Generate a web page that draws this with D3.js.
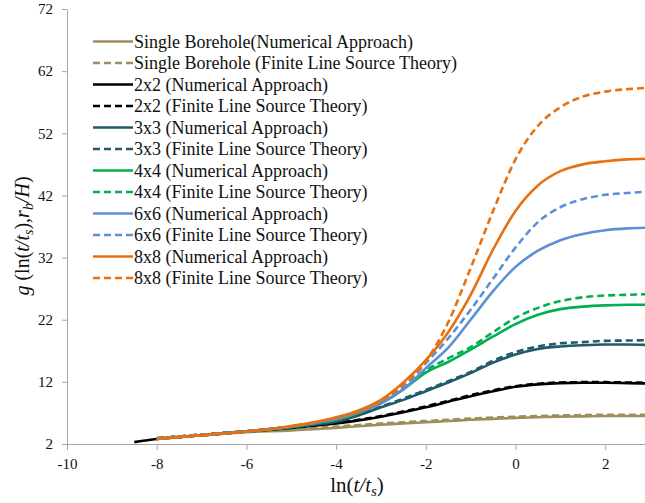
<!DOCTYPE html>
<html>
<head>
<meta charset="utf-8">
<script src="https://cdn.jsdelivr.net/npm/d3@7"></script>
<style>
  html, body { margin: 0; padding: 0; background: #fff; }
  svg { display: block; }
  svg text { font-family: "Liberation Serif", "Times New Roman", serif; }
</style>
</head>
<body>
<svg id="chart" width="645" height="503"></svg>
<script>
// ---------- data ----------
const xNumericalLong = [-8.5,-8,-7,-6,-5,-4.5,-4,-3.5,-3,-2.5,-2,-1.5,-1,-0.5,0,0.5,1,1.5,2,2.5,2.9];
const xNumerical = [-8,-7,-6,-5,-4.5,-4,-3.5,-3,-2.5,-2,-1.5,-1,-0.5,0,0.5,1,1.5,2,2.5,2.9];
const xFiniteLine = [-8,-7,-6,-5,-4.5,-4,-3.5,-3,-2.5,-2,-1.5,-1,-0.5,0,0.5,1,1.5,2,2.5,2.9];

const singleNum = [2.8,3.4,3.9,4.2,4.4,4.6,4.85,5.1,5.3,5.5,5.7,5.9,6.05,6.2,6.3,6.4,6.45,6.5,6.5,6.5];
const singleFls = [2.9,3.5,4.0,4.35,4.55,4.8,5.05,5.3,5.5,5.7,5.9,6.1,6.25,6.4,6.5,6.6,6.65,6.7,6.7,6.7];
const g2Num = [2.3,2.8,3.4,4.0,4.6,4.95,5.3,5.8,6.4,7.1,7.9,8.8,9.7,10.5,11.2,11.6,11.8,11.85,11.85,11.8,11.75];
const g2Fls = [2.9,3.5,4.05,4.65,5.0,5.4,5.9,6.5,7.25,8.05,8.95,9.85,10.65,11.3,11.7,11.9,11.95,11.95,11.9,11.85];
const g3Num = [2.8,3.4,4.0,4.7,5.1,5.6,6.6,7.9,9.1,10.5,11.9,13.4,15.1,16.4,17.3,17.7,17.9,18.0,18.0,17.95];
const g3Fls = [2.9,3.5,4.05,4.75,5.15,5.7,6.7,8.0,9.3,10.7,12.1,13.6,15.4,16.8,17.7,18.2,18.4,18.6,18.65,18.7];
const g4Num = [2.8,3.4,4.0,4.75,5.3,5.9,7.0,8.6,10.8,13.5,15.2,17.2,19.3,21.3,22.8,23.7,24.1,24.3,24.4,24.4];
const g4Fls = [2.9,3.5,4.05,4.8,5.35,6.0,7.1,8.7,11.0,13.8,15.8,17.6,20.0,22.3,23.9,25.0,25.6,25.9,26.0,26.1];
const g6Num = [2.8,3.4,4.0,4.8,5.35,6.0,7.1,8.5,10.8,14.2,17.5,22.0,26.6,30.5,33.1,34.8,35.8,36.4,36.7,36.8];
const g6Fls = [2.9,3.5,4.05,4.85,5.4,6.1,7.2,8.7,11.2,15.0,19.0,23.6,28.6,33.6,37.7,40.1,41.4,42.1,42.4,42.6];
const g8Num = [2.8,3.4,4.0,4.9,5.5,6.3,7.4,9.1,11.9,15.5,20.0,26.0,33.3,39.5,43.6,45.9,47.0,47.5,47.8,47.9];
const g8Fls = [2.9,3.5,4.0,4.85,5.45,6.2,7.2,8.9,11.6,15.3,21.6,30.3,39.5,47.8,53.2,56.2,57.9,58.7,59.1,59.3];

const seriesNames = [
  "Single Borehole(Numerical Approach)",
  "Single Borehole (Finite Line Source Theory)",
  "2x2 (Numerical Approach)",
  "2x2 (Finite Line Source Theory)",
  "3x3 (Numerical Approach)",
  "3x3 (Finite Line Source Theory)",
  "4x4 (Numerical Approach)",
  "4x4 (Finite Line Source Theory)",
  "6x6 (Numerical Approach)",
  "6x6 (Finite Line Source Theory)",
  "8x8 (Numerical Approach)",
  "8x8 (Finite Line Source Theory)"
];
const seriesValues = [singleNum, singleFls, g2Num, g2Fls, g3Num, g3Fls, g4Num, g4Fls, g6Num, g6Fls, g8Num, g8Fls];
const seriesX = [xNumerical, xFiniteLine, xNumericalLong, xFiniteLine, xNumerical, xFiniteLine,
                 xNumerical, xFiniteLine, xNumerical, xFiniteLine, xNumerical, xFiniteLine];
const seriesColors = ["#9C8F5C","#9C8F5C","#000000","#000000","#215A69","#215A69","#00B050","#00B050","#5B8FD8","#5B8FD8","#E8700F","#E8700F"];
const seriesDashed = [false,true,false,true,false,true,false,true,false,true,false,true];

const xTicks = [-10,-8,-6,-4,-2,0,2];
const yTicks = [2,12,22,32,42,52,62,72];

// ---------- layout ----------
const FONT = "'Liberation Serif', 'Times New Roman', serif";
const plotLeft = 67, plotRight = 645, plotTop = 9, plotBottom = 444;
const xMax = -10 + (plotRight - plotLeft) / 44.85;

const x = d3.scaleLinear().domain([-10, xMax]).range([plotLeft, plotRight]);
const y = d3.scaleLinear().domain([2, 72]).range([plotBottom, plotTop]);

const svg = d3.select("#chart");
const axisColor = "#a6a6a6";
const fmt = d => String(d);

// axes
const gx = svg.append("g").attr("transform", `translate(0,${plotBottom})`)
  .call(d3.axisBottom(x).tickValues(xTicks).tickFormat(fmt).tickSize(6).tickSizeOuter(0).tickPadding(6));
const gy = svg.append("g").attr("transform", `translate(${plotLeft},0)`)
  .call(d3.axisLeft(y).tickValues(yTicks).tickFormat(fmt).tickSize(5).tickSizeOuter(0).tickPadding(9));
[gx, gy].forEach(g => {
  g.attr("font-family", FONT).attr("font-size", 15);
  g.select(".domain").attr("stroke", axisColor).attr("stroke-width", 1);
  g.selectAll(".tick line").attr("stroke", axisColor);
  g.selectAll(".tick text").attr("fill", "#111");
});
gx.selectAll(".tick text").attr("dy", "0.85em");

// lines
const line = d3.line().curve(d3.curveMonotoneX).x(d => x(d[0])).y(d => y(d[1]));
const plot = svg.append("g");
seriesValues.forEach((vals, i) => {
  const xs = seriesX[i];
  const pts = vals.map((v, j) => [xs[j], v]);
  plot.append("path")
    .datum(pts)
    .attr("d", line)
    .attr("fill", "none")
    .attr("stroke", seriesColors[i])
    .attr("stroke-width", 2.6)
    .attr("stroke-dasharray", seriesDashed[i] ? "7,4" : null)
    .attr("stroke-linecap", "butt");
});

// legend
const legend = svg.append("g").attr("font-family", FONT).attr("font-size", 18);
const legX0 = 93, legX1 = 133, legY0 = 41.5, legStep = 21.5;
seriesNames.forEach((name, i) => {
  const yy = legY0 + i * legStep;
  legend.append("line")
    .attr("x1", legX0).attr("x2", legX1).attr("y1", yy).attr("y2", yy)
    .attr("stroke", seriesColors[i]).attr("stroke-width", 2.6)
    .attr("stroke-dasharray", seriesDashed[i] ? "7,4" : null);
  legend.append("text")
    .attr("x", legX1 + 1).attr("y", yy + 6)
    .attr("fill", "#111")
    .attr("font-family", FONT)
    .attr("font-size", 18)
    .text(name);
});

// y-axis title
const yt = svg.append("text")
  .attr("transform", "translate(29,236) rotate(-90)")
  .attr("text-anchor", "middle")
  .attr("fill", "#111")
  .attr("font-family", FONT)
  .attr("font-size", 20);
yt.append("tspan").attr("font-style", "italic").text("g");
yt.append("tspan").text(" (ln(");
yt.append("tspan").attr("font-style", "italic").text("t/t");
yt.append("tspan").attr("font-style", "italic").attr("dy", 4).attr("font-size", 14).text("s");
yt.append("tspan").attr("dy", -4).text("),");
yt.append("tspan").attr("font-style", "italic").text("r");
yt.append("tspan").attr("font-style", "italic").attr("dy", 4).attr("font-size", 14).text("b");
yt.append("tspan").attr("font-style", "italic").attr("dy", -4).text("/H");
yt.append("tspan").text(")");

// x-axis title
const xt = svg.append("text")
  .attr("x", 357).attr("y", 492)
  .attr("text-anchor", "middle")
  .attr("fill", "#111")
  .attr("font-family", FONT)
  .attr("font-size", 21);
xt.append("tspan").text("ln(");
xt.append("tspan").attr("font-style", "italic").text("t/t");
xt.append("tspan").attr("font-style", "italic").attr("dy", 4).attr("font-size", 15).text("s");
xt.append("tspan").attr("dy", -4).text(")");
</script>
</body>
</html>
